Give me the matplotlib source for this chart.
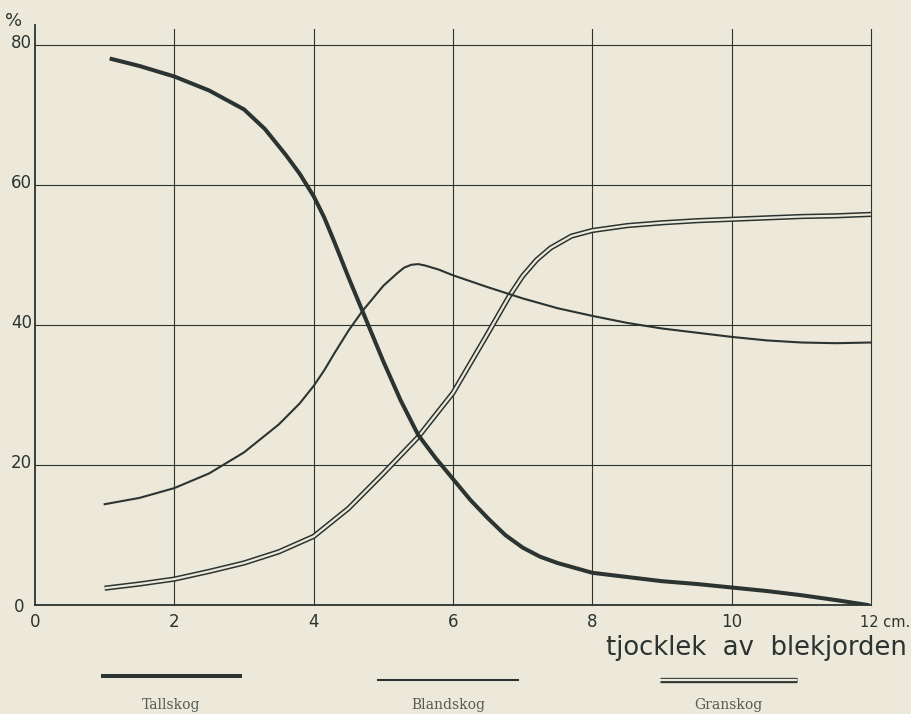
import matplotlib
matplotlib.use("Agg")
import matplotlib.pyplot as plt
from matplotlib.lines import Line2D

# values (x in cm, y in %)
tall_x = [1.1, 1.5, 2.0, 2.5, 3.0, 3.3, 3.6, 3.8, 4.0, 4.15, 4.3, 4.5, 4.7, 5.0, 5.25, 5.5,
          5.75, 6.0, 6.25, 6.5, 6.75, 7.0, 7.25, 7.5, 8.0, 8.5, 9.0, 9.5, 10.0, 10.5,
          11.0, 11.5, 11.95]
tall_y = [78.0, 77.0, 75.5, 73.5, 70.8, 68.0, 64.3, 61.6, 58.4, 55.4, 51.8, 46.8, 42.0, 34.8,
          29.2, 24.3, 21.0, 18.0, 15.0, 12.4, 10.0, 8.2, 6.9, 6.0, 4.6, 4.0, 3.4, 3.0, 2.5,
          2.0, 1.4, 0.7, 0.0]

bland_x = [1.0, 1.5, 2.0, 2.5, 3.0, 3.5, 3.8, 4.0, 4.15, 4.3, 4.5, 4.7, 5.0, 5.2, 5.3,
           5.4, 5.5, 5.6, 5.8, 6.0, 6.5, 7.0, 7.5, 8.0, 8.5, 9.0, 9.5, 10.0, 10.5, 11.0,
           11.5, 12.0]
bland_y = [14.4, 15.3, 16.7, 18.8, 21.8, 25.8, 28.8, 31.3, 33.5, 36.0, 39.2, 42.0, 45.6,
           47.4, 48.2, 48.6, 48.7, 48.5, 47.9, 47.1, 45.4, 43.8, 42.4, 41.3, 40.3, 39.5,
           38.9, 38.3, 37.8, 37.5, 37.4, 37.5]

gran_x = [1.0, 1.5, 2.0, 2.5, 3.0, 3.5, 4.0, 4.5, 5.0, 5.5, 6.0, 6.5, 6.8, 7.0,
          7.2, 7.4, 7.7, 8.0, 8.5, 9.0, 9.5, 10.0, 10.5, 11.0, 11.5, 12.0]
gran_y = [2.4, 3.0, 3.7, 4.8, 6.0, 7.6, 9.8, 13.8, 18.8, 24.0, 30.3, 38.8, 44.0, 47.0,
          49.3, 51.0, 52.7, 53.5, 54.2, 54.6, 54.9, 55.1, 55.3, 55.5, 55.6, 55.8]

x_ticks = [0, 2, 4, 6, 8, 10]
y_ticks = [0, 20, 40, 60, 80]
labels = ["Tallskog", "Blandskog", "Granskog"]

paper = "#ece9da"
ink = "#2b3431"

W, H = 911, 714
fig = plt.figure(figsize=(W / 100, H / 100), dpi=100, facecolor=paper)
ax = fig.add_axes([35 / W, 1 - 605 / H, 836 / W, 560 / H])
ax.set_facecolor(paper)
ax.set_xlim(0, 12)
ax.set_ylim(0, 80)
for s in ax.spines.values():
    s.set_visible(False)
ax.set_xticks([])
ax.set_yticks([])

# grid, drawn like the hand-ruled original
for gx in [2, 4, 6, 8, 10, 12]:
    ax.plot([gx, gx], [0, 82.3], color=ink, lw=0.8, clip_on=False, zorder=1)
for gy in [20, 40, 60, 80]:
    ax.plot([0, 12], [gy, gy], color=ink, lw=0.8, clip_on=False, zorder=1)
ax.plot([0, 0], [0, 82.9], color=ink, lw=1.3, clip_on=False, zorder=1)
ax.plot([0, 12], [0, 0], color=ink, lw=1.3, clip_on=False, zorder=1)

# curves
ax.plot(gran_x, gran_y, color=ink, lw=3.8, solid_capstyle="butt", zorder=2)
ax.plot(gran_x, gran_y, color=paper, lw=1.6, solid_capstyle="butt", zorder=3)
ax.plot(bland_x, bland_y, color=ink, lw=1.5, zorder=4)
ax.plot(tall_x, tall_y, color=ink, lw=2.9, zorder=5)

# tick labels
for t in x_ticks:
    ax.text(t, -2.45, str(t), ha="center", va="center", fontsize=12, color=ink)
ax.text(11.84, -2.45, "12 cm.", ha="left", va="center", fontsize=10.5, color=ink)
for t in y_ticks:
    if t == 0:
        ax.text(-0.15, -0.3, "0", ha="right", va="center", fontsize=12, color=ink)
    else:
        ax.text(-0.04, t + 0.3, str(t), ha="right", va="center", fontsize=12, color=ink)
ax.text(-0.18, 83.4, "%", ha="right", va="center", fontsize=13, color=ink)

ax.text(12.52, -6.2, "tjocklek  av  blekjorden", ha="right", va="center",
        fontsize=18.6, color=ink, clip_on=False)

# legend under the plot
leg = [(103, 240, 676), (378, 518, 680), (660, 797, 680)]
for i, (x0, x1, yy) in enumerate(leg):
    fx = [x0 / W, x1 / W]
    fy = [1 - yy / H, 1 - yy / H]
    if i == 0:
        fig.add_artist(Line2D(fx, fy, color=ink, lw=2.9))
    elif i == 1:
        fig.add_artist(Line2D(fx, fy, color=ink, lw=1.5))
    else:
        fig.add_artist(Line2D(fx, fy, color=ink, lw=3.8, solid_capstyle="butt"))
        fig.add_artist(Line2D(fx, fy, color=paper, lw=1.6, solid_capstyle="butt"))
    fig.text((x0 + x1) / 2 / W, 1 - 705 / H, labels[i], ha="center", va="center",
             fontsize=10, family="DejaVu Serif", color="#555a55")

fig.savefig("out.png", dpi=100, facecolor=paper)
